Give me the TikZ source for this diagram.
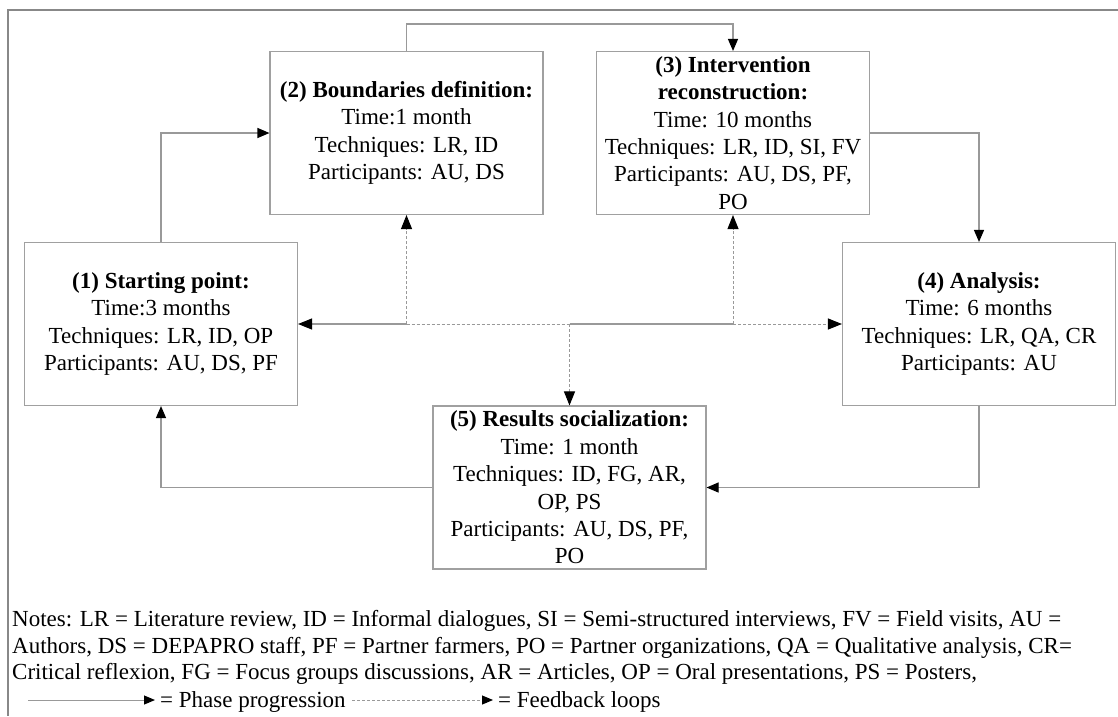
\documentclass[tikz,border=0pt]{standalone}
\usepackage{fontspec}
\setmainfont{Liberation Serif}
\usetikzlibrary{arrows.meta}
\definecolor{boxgray}{HTML}{A0A0A0}
\definecolor{linegray}{HTML}{999999}
\definecolor{framegray}{HTML}{888888}
\tikzset{
  phasebox/.style={draw=boxgray, line width=1.1pt, fill=white, align=center,
    minimum width=273pt, minimum height=163pt, inner sep=2pt,
    font={\fontsize{23}{27.4}\selectfont}},
  phase/.style={draw=linegray, line width=1.1pt,
    -{Triangle[length=12pt,width=10pt,color=black]}},
  phaseline/.style={draw=linegray, line width=1.1pt},
  fbarrow/.style={draw=linegray, line width=1pt, dash pattern=on 3pt off 2pt,
    -{Triangle[length=14pt,width=11pt,color=black]}},
  fbline/.style={draw=linegray, line width=1pt, dash pattern=on 3pt off 2pt},
  fbsolidarrow/.style={draw=linegray, line width=1.1pt,
    -{Triangle[length=14pt,width=11pt,color=black]}},
  notetext/.style={inner sep=0pt, font={\fontsize{23}{26.7}\selectfont}},
  frameline/.style={draw=framegray, line width=1.1pt},
}
\begin{document}
\begin{tikzpicture}[x=1pt,y=-1pt]
\useasboundingbox (0,0) rectangle (1118,716);
\fill[white] (0,0) rectangle (1118,716);
% outer frame (cropped)
\draw[frameline] (1118,10) -- (8,10) -- (8,716);

% phase boxes
\node[phasebox] (b1) at (161,324) {\textbf{(1) Starting point:}\\Time:3 months\\Techniques: LR, ID, OP\\Participants: AU, DS, PF};
\node[phasebox] (b2) at (406.5,133) {\textbf{(2) Boundaries definition:}\\Time:1 month\\Techniques: LR, ID\\Participants: AU, DS};
\node[phasebox] (b3) at (733,133) {\textbf{(3) Intervention}\\\textbf{reconstruction:}\\Time: 10 months\\Techniques: LR, ID, SI, FV\\Participants: AU, DS, PF,\\PO};
\node[phasebox] (b4) at (979,324) {\textbf{(4) Analysis:}\\Time: 6 months\\Techniques: LR, QA, CR\\Participants: AU};
\node[phasebox] (b5) at (569.5,487.5) {\textbf{(5) Results socialization:}\\Time: 1 month\\Techniques: ID, FG, AR,\\OP, PS\\Participants: AU, DS, PF,\\PO};

% phase progression
\draw[phase] (b1.north) |- (b2.west);
\draw[phase] (b2.north) -- ++(0,-27) -| (b3.north);
\draw[phase] (b3.east) -| (b4.north);
\draw[phase] (b4.south) |- (b5.east);
\draw[phase] (b5.west) -| (b1.south);

% feedback loops
\coordinate (j2) at (b2.south |- b1.east);
\coordinate (j5) at (b5.north |- b1.east);
\coordinate (j3) at (b3.south |- b1.east);
\draw[fbsolidarrow] (j2) -- (b1.east);
\draw[fbline] (j2) -- (j5);
\draw[phaseline] (j5) -- (j3);
\draw[fbarrow] (j3) -- (b4.west);
\draw[fbarrow] (j2) -- (b2.south);
\draw[fbarrow] (j3) -- (b3.south);
\draw[fbarrow] (j5) -- (b5.north);

% notes
\node[notetext, anchor=north west, align=left] (notes) at (12,610) {Notes: LR = Literature review, ID = Informal dialogues, SI = Semi-structured interviews, FV = Field visits, AU =\\Authors, DS = DEPAPRO staff, PF = Partner farmers, PO = Partner organizations, QA = Qualitative analysis, CR=\\Critical reflexion, FG = Focus groups discussions, AR = Articles, OP = Oral presentations, PS = Posters,};

% legend
\coordinate (ls1) at (28,700);
\coordinate (le1) at (155,700);
\node[notetext, anchor=base west] (lt1) at (160,707) {= Phase progression};
\coordinate (ls2) at (352,700);
\coordinate (le2) at (493,700);
\node[notetext, anchor=base west] (lt2) at (498,707) {= Feedback loops};
\draw[draw=linegray, line width=1pt, -{Triangle[length=11pt,width=9pt,color=black]}] (ls1) -- (le1);
\draw[draw=linegray, line width=1pt, dash pattern=on 3pt off 2pt, -{Triangle[length=11pt,width=9pt,color=black]}] (ls2) -- (le2);
\end{tikzpicture}
\end{document}
